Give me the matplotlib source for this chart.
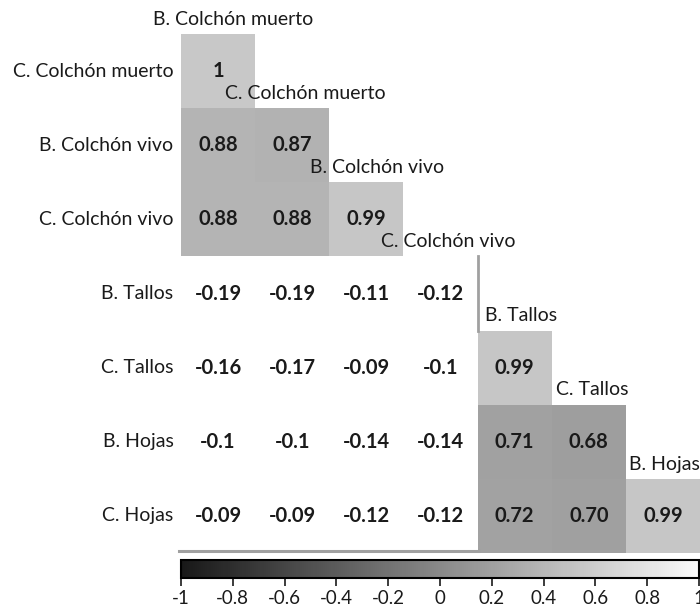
import numpy as np
import matplotlib
matplotlib.use("Agg")
import matplotlib.pyplot as plt
from matplotlib.colors import LinearSegmentedColormap, Normalize

plt.rcParams['font.family'] = ['Lato', 'DejaVu Sans']

# Variables (rows and columns of the lower triangle)
row_labels = ['C. Colchón muerto', 'B. Colchón vivo', 'C. Colchón vivo',
              'B. Tallos', 'C. Tallos', 'B. Hojas', 'C. Hojas']
col_labels = ['B. Colchón muerto', 'C. Colchón muerto', 'B. Colchón vivo',
              'C. Colchón vivo', 'B. Tallos', 'C. Tallos', 'B. Hojas']

# Correlation coefficients, row by row (lower triangle incl. diagonal)
r_colchon_muerto = [1]
r_b_colchon_vivo = [0.88, 0.87]
r_c_colchon_vivo = [0.88, 0.88, 0.99]
r_b_tallos = [-0.19, -0.19, -0.11, -0.12]
r_c_tallos = [-0.16, -0.17, -0.09, -0.1, 0.99]
r_b_hojas = [-0.1, -0.1, -0.14, -0.14, 0.71, 0.68]
r_c_hojas = [-0.09, -0.09, -0.12, -0.12, 0.72, 0.70, 0.99]

# how each value is printed in its cell
txt_rows = [['1'],
            ['0.88', '0.87'],
            ['0.88', '0.88', '0.99'],
            ['-0.19', '-0.19', '-0.11', '-0.12'],
            ['-0.16', '-0.17', '-0.09', '-0.1', '0.99'],
            ['-0.1', '-0.1', '-0.14', '-0.14', '0.71', '0.68'],
            ['-0.09', '-0.09', '-0.12', '-0.12', '0.72', '0.70', '0.99']]

rows = [r_colchon_muerto, r_b_colchon_vivo, r_c_colchon_vivo,
        r_b_tallos, r_c_tallos, r_b_hojas, r_c_hojas]
n = len(row_labels)
M = np.full((n, n), np.nan)
for i, vals in enumerate(rows):
    M[i, :len(vals)] = vals

# only the positive blocks are shaded, the rest stays white
cell_cmap = LinearSegmentedColormap.from_list(
    'cells', [(0.0, '#989898'), (0.5, '#a8a8a8'), (0.9, '#bfbfbf'), (1.0, '#c8c8c8')])
cell_cmap.set_bad('white')
shade = np.ma.masked_where(~(M > 0), M)

fig = plt.figure(figsize=(7.0, 6.14), dpi=100)
ax = fig.add_axes([181 / 700, 61 / 614, 519 / 700, 519 / 614])
ax.pcolormesh(np.arange(n + 1), np.arange(n + 1), shade, cmap=cell_cmap,
              norm=Normalize(0.6, 1.0))
ax.set_xlim(0, n)
ax.set_ylim(n, 0)
ax.axis('off')

for i in range(n):
    for j in range(len(rows[i])):
        ax.text(j + 0.5, i + 0.5, txt_rows[i][j], ha='center', va='center',
                fontsize=14.5, fontweight='bold', color='#1a1a1a')
    ax.text(-0.1, i + 0.5, row_labels[i], ha='right', va='center',
            fontsize=14, color='#1a1a1a', clip_on=False)

# column names sit just above the diagonal cell of each column
for j in range(n):
    ax.text(j + 0.7 - 0.03 * j, j - 0.2, col_labels[j], ha='center', va='center',
            fontsize=14, color='#1a1a1a', clip_on=False)

# separators around the negative block
ax.plot([4, 4], [3.0, 4.0], color='#a0a0a0', lw=2, clip_on=False)
ax.plot([-0.03, 4], [7 - 0.03, 7 - 0.03], color='#a0a0a0', lw=2.2, clip_on=False)

# colour bar
bar_cmap = LinearSegmentedColormap.from_list('bar', ['#181818', '#fafafa'])
cax = fig.add_axes([181 / 700, 36 / 614, 518 / 700, 18 / 614])
sm = plt.cm.ScalarMappable(norm=Normalize(-1, 1), cmap=bar_cmap)
cb = fig.colorbar(sm, cax=cax, orientation='horizontal')
cb.set_ticks(np.arange(-1, 1.01, 0.2))
cb.set_ticklabels(['-1', '-0.8', '-0.6', '-0.4', '-0.2', '0',
                   '0.2', '0.4', '0.6', '0.8', '1'])
cb.outline.set_linewidth(1.5)
cax.tick_params(labelsize=13.5, length=6, width=1.2, pad=3, colors='#1a1a1a')

fig.savefig('out.png', dpi=100)
